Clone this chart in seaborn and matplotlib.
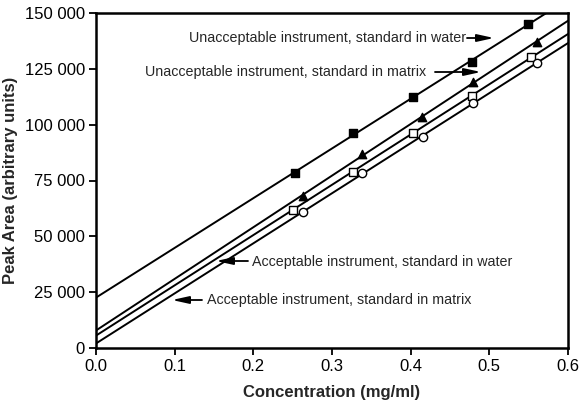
import numpy as np
import pandas as pd
import matplotlib
matplotlib.use("Agg")
import matplotlib.pyplot as plt
import seaborn as sns

# ---- data ----
uw_x = [0.253, 0.327, 0.403, 0.478, 0.549]
uw_y = [78300, 96300, 112400, 128100, 145100]      # unacceptable, water (filled squares)
um_x = [0.263, 0.338, 0.414, 0.479, 0.561]
um_y = [68000, 86800, 103300, 119000, 137100]      # unacceptable, matrix (filled triangles)
aw_x = [0.250, 0.327, 0.403, 0.478, 0.553]
aw_y = [62000, 79000, 96300, 112800, 130300]       # acceptable, water (open squares)
am_x = [0.263, 0.338, 0.416, 0.479, 0.561]
am_y = [60700, 78400, 94700, 109900, 127600]       # acceptable, matrix (open circles)

x_ticks = [0.0, 0.1, 0.2, 0.3, 0.4, 0.5, 0.6]
x_ticklabels = ["0.0", "0.1", "0.2", "0.3", "0.4", "0.5", "0.6"]
y_ticks = [0, 25000, 50000, 75000, 100000, 125000, 150000]
y_ticklabels = ["0", "25 000", "50 000", "75 000", "100 000", "125 000", "150 000"]

labels = ["Unacceptable instrument, standard in water",
          "Unacceptable instrument, standard in matrix",
          "Acceptable instrument, standard in water",
          "Acceptable instrument, standard in matrix"]

sns.set_style("ticks")
plt.rcParams["font.family"] = ["Liberation Sans", "DejaVu Sans"]

fig = plt.figure(figsize=(5.79, 4.08), dpi=100)
ax = fig.add_axes([96/579, 1-348/408, (568-96)/579, (348-13)/408])
ax.set_xlim(0, 0.6)
ax.set_ylim(0, 150000)

series = [
    (uw_x, uw_y, "s", "black"),
    (um_x, um_y, "^", "black"),
    (aw_x, aw_y, "s", "white"),
    (am_x, am_y, "o", "white"),
]
for xs, ys, mk, fc in series:
    df = pd.DataFrame({"x": xs, "y": ys})
    sns.regplot(data=df, x="x", y="y", ax=ax, ci=None, truncate=False,
                marker=mk, color="black",
                scatter_kws=dict(s=36, facecolors=fc, edgecolors="black",
                                 linewidths=1.0, alpha=1, zorder=3),
                line_kws=dict(lw=1.4, color="black", zorder=2))

ax.set_xlim(0, 0.6)
ax.set_ylim(0, 150000)

ax.set_xticks(x_ticks)
ax.set_xticklabels(x_ticklabels)
ax.set_yticks(y_ticks)
ax.set_yticklabels(y_ticklabels)
ax.tick_params(direction="out", length=5, width=1.3, labelsize=12, colors="black", pad=3)
for sp in ax.spines.values():
    sp.set_linewidth(1.8)
    sp.set_color("black")
    sp.set_visible(True)

ax.set_xlabel("Concentration (mg/ml)", fontsize=12, fontweight="bold", labelpad=8)
ax.set_ylabel("Peak Area (arbitrary units)", fontsize=12, fontweight="bold", labelpad=5)

# ---- annotations (pixel positions converted to data) ----
def px2d(px, py):
    return ((px - 96) / 786.7, (348 - py) / (335 / 150000))

tfs = 10.3
arrow = dict(arrowstyle="-|>,head_length=1.0,head_width=0.22", lw=1.3, color="black",
             shrinkA=0, shrinkB=0)

# text 1
ax.text(*px2d(189, 38), labels[0], fontsize=tfs, ha="left", va="center")
ax.annotate("", xy=px2d(494, 38), xytext=px2d(467, 38), arrowprops=arrow)
# text 2
ax.text(*px2d(145, 72), labels[1], fontsize=tfs, ha="left", va="center")
ax.annotate("", xy=px2d(481, 72), xytext=px2d(435, 72), arrowprops=arrow)
# text 3
ax.text(*px2d(252, 262), labels[2], fontsize=tfs, ha="left", va="center")
ax.annotate("", xy=px2d(216, 261), xytext=px2d(248, 261), arrowprops=arrow)
# text 4
ax.text(*px2d(207, 300), labels[3], fontsize=tfs, ha="left", va="center")
ax.annotate("", xy=px2d(172, 300), xytext=px2d(202, 300), arrowprops=arrow)

fig.savefig("out.png", dpi=100)
